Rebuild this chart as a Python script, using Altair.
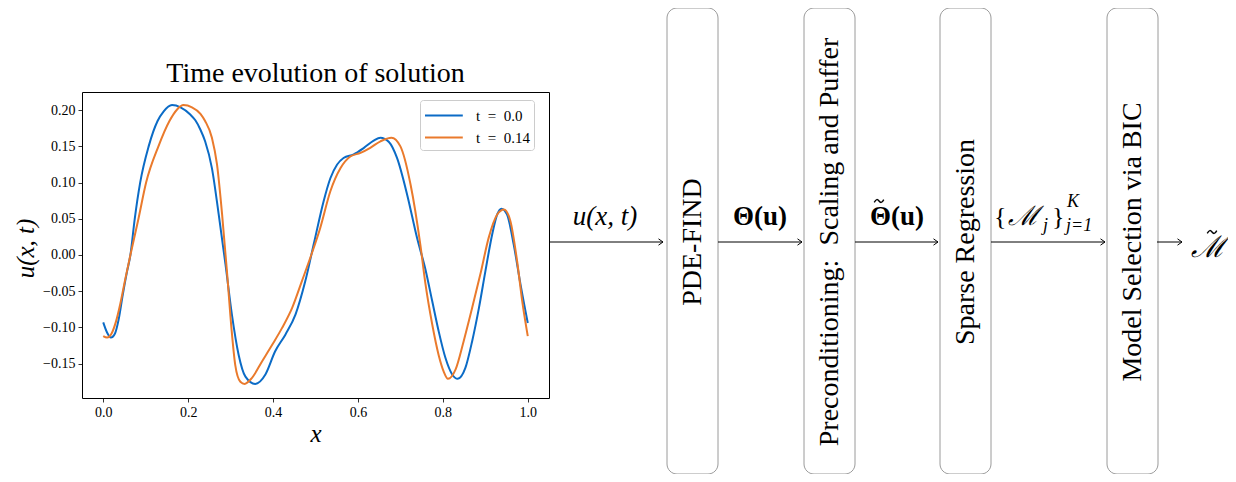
import altair as alt
import pandas as pd

# ---------------- data ----------------
SERIES = ["t\u2002=\u20020.0", "t\u2002=\u20020.14"]
COLORS = ["#0b6bc6", "#ea7a2c"]

X_T0 = [0.000, 0.009, 0.018, 0.028, 0.036, 0.046, 0.056, 0.064, 0.074, 0.087,
        0.107, 0.128, 0.142, 0.162, 0.182, 0.205, 0.217, 0.229, 0.240, 0.256,
        0.272, 0.288, 0.303, 0.319, 0.335, 0.358, 0.382, 0.405, 0.429, 0.453,
        0.476, 0.497, 0.519, 0.535, 0.551, 0.566, 0.590, 0.614, 0.637, 0.653,
        0.673, 0.692, 0.716, 0.739, 0.759, 0.775, 0.790, 0.806, 0.822, 0.835,
        0.853, 0.869, 0.885, 0.900, 0.916, 0.928, 0.938, 0.951, 0.967, 0.983,
        1.000]
U_T0 = [-0.093, -0.107, -0.114, -0.108, -0.090, -0.055, -0.023, 0.000, 0.049, 0.100,
        0.150, 0.185, 0.198, 0.207, 0.204, 0.194, 0.186, 0.173, 0.157, 0.120,
        0.056, -0.013, -0.082, -0.138, -0.168, -0.178, -0.165, -0.133, -0.110, -0.082,
        -0.036, 0.018, 0.074, 0.106, 0.125, 0.134, 0.139, 0.148, 0.158, 0.162,
        0.156, 0.134, 0.083, 0.024, -0.020, -0.064, -0.105, -0.142, -0.165, -0.171,
        -0.156, -0.119, -0.073, -0.023, 0.028, 0.056, 0.064, 0.056, 0.014, -0.041,
        -0.094]

X_T1 = [0.000, 0.009, 0.020, 0.030, 0.040, 0.052, 0.064, 0.083, 0.101, 0.130,
        0.156, 0.174, 0.189, 0.209, 0.229, 0.240, 0.256, 0.268, 0.280, 0.292,
        0.302, 0.311, 0.323, 0.333, 0.350, 0.374, 0.398, 0.421, 0.445, 0.468,
        0.490, 0.511, 0.535, 0.559, 0.582, 0.606, 0.629, 0.653, 0.679, 0.700,
        0.724, 0.747, 0.759, 0.775, 0.790, 0.802, 0.812, 0.830, 0.849, 0.869,
        0.889, 0.908, 0.928, 0.944, 0.959, 0.975, 0.987, 1.000]
U_T1 = [-0.112, -0.114, -0.108, -0.092, -0.068, -0.033, 0.000, 0.050, 0.100, 0.150,
        0.185, 0.201, 0.207, 0.204, 0.195, 0.185, 0.162, 0.125, 0.056, -0.027,
        -0.101, -0.152, -0.175, -0.178, -0.170, -0.147, -0.124, -0.101, -0.073, -0.036,
        0.000, 0.037, 0.088, 0.120, 0.136, 0.141, 0.148, 0.157, 0.162, 0.150,
        0.097, 0.014, -0.040, -0.096, -0.138, -0.161, -0.171, -0.158, -0.119, -0.073,
        -0.025, 0.024, 0.056, 0.063, 0.047, -0.009, -0.064, -0.112]

X_TICKS = [0.0, 0.2, 0.4, 0.6, 0.8, 1.0]
Y_TICKS = [-0.15, -0.10, -0.05, 0.00, 0.05, 0.10, 0.15, 0.20]
TITLE = "Time evolution of solution"
STAGES = ["PDE-FIND", "Preconditioning:\u00a0 Scaling and Puffer",
          "Sparse Regression", "Model Selection via BIC"]

# ---------------- layout (page pixel units) ----------------
FONT = "Liberation Serif"
PX0, PY0, PW, PH = 82, 92, 467, 306
X_DOMAIN = [-0.05, 1.05]
Y_DOMAIN = [-0.1975, 0.2251]
BOX_LEFT = [667, 804, 940, 1107]
BOX_W = 51
BOX_TOP, BOX_BOTTOM = 8, 474
FLOW_Y = 242
ARROW_FROM = [549, 718, 855, 991, 1157]
ARROW_TO = [663, 802, 938, 1105, 1182]
TILDE_SHAPE = "M-1,0.3C-0.6,-0.5 -0.3,-0.4 0,0C0.3,0.4 0.6,0.5 1,-0.3"
ARROW_SHAPE = "M-1,-0.7L0,0L-1,0.7"
LEGEND_SHAPE = "M-1,0H2.6"

# ---------------- tables ----------------
lines = pd.concat([
    pd.DataFrame({"x": X_T0, "u": U_T0, "series": SERIES[0]}),
    pd.DataFrame({"x": X_T1, "u": U_T1, "series": SERIES[1]}),
], ignore_index=True)

boxes = pd.DataFrame({
    "x0": BOX_LEFT,
    "x1": [b + BOX_W for b in BOX_LEFT],
    "y0": [BOX_TOP] * 4,
    "y1": [BOX_BOTTOM] * 4,
    "cx": [b + BOX_W / 2 for b in BOX_LEFT],
    "cy": [FLOW_Y] * 4,
    "label": STAGES,
})
arrows = pd.DataFrame({"x0": ARROW_FROM, "x1": ARROW_TO, "y": [FLOW_Y] * 5})
tildes = pd.DataFrame({"x": [879, 1212], "y": [201, 232]})

DX = alt.Scale(domain=[PX0, PX0 + PW], nice=False, zero=False)
DY = alt.Scale(domain=[PY0, PY0 + PH], nice=False, zero=False, reverse=True)


def dx(f):
    return alt.X(f, type="quantitative", scale=DX, axis=None)


def dy(f):
    return alt.Y(f, type="quantitative", scale=DY, axis=None)


def text_layer(rows, **kw):
    df = pd.DataFrame(rows, columns=["t", "x", "y"])
    return alt.Chart(df).mark_text(color="black", **kw).encode(
        x=dx("x"), y=dy("y"), text="t:N")


line_chart = alt.Chart(lines).mark_line(interpolate="monotone", strokeWidth=2).encode(
    x=alt.X("x:Q", scale=alt.Scale(domain=X_DOMAIN, nice=False, zero=False),
            axis=alt.Axis(values=X_TICKS, format=".1f", title="x",
                          labelFont=FONT, titleFont=FONT,
                          titleFontStyle="italic", titleFontSize=25, titlePadding=2)),
    y=alt.Y("u:Q", scale=alt.Scale(domain=Y_DOMAIN, nice=False, zero=False),
            axis=alt.Axis(values=Y_TICKS, format=".2f", title="u(x, t)",
                          labelFont=FONT, titleFont=FONT,
                          titleFontStyle="italic", titleFontSize=25,
                          titleX=-57, titleY=PH / 2 + 3, titleAngle=270,
                          titleAlign="center", titleBaseline="middle")),
    color=alt.Color("series:N", sort=SERIES,
                    scale=alt.Scale(domain=SERIES, range=COLORS),
                    legend=alt.Legend(title=None, orient="none", legendX=338, legendY=8,
                                      symbolType=LEGEND_SHAPE, symbolSize=441,
                                      symbolStrokeWidth=2, labelFont=FONT,
                                      labelFontSize=15, labelColor="black",
                                      fillColor="white", strokeColor="#cccccc",
                                      cornerRadius=3, padding=4, rowPadding=2,
                                      labelOffset=29)),
)

box_layer = alt.Chart(boxes).mark_rect(filled=False, stroke="#9a9a9a", strokeWidth=1,
                                       cornerRadius=10).encode(
    x=dx("x0"), x2="x1", y=dy("y0"), y2="y1")

box_text = alt.Chart(boxes).mark_text(font=FONT, fontSize=28, angle=270, color="black",
                                      align="center", baseline="middle").encode(
    x=dx("cx"), y=dy("cy"), text="label:N")

arrow_lines = alt.Chart(arrows).mark_rule(color="black", strokeWidth=1).encode(
    x=dx("x0"), x2="x1", y=dy("y"))

arrow_heads = alt.Chart(arrows).mark_point(
    shape=ARROW_SHAPE, filled=False, stroke="black", strokeWidth=1,
    size=81, opacity=1).encode(x=dx("x1"), y=dy("y"))

tilde_marks = alt.Chart(tildes).mark_point(
    shape=TILDE_SHAPE, filled=False, stroke="black", strokeWidth=1.4,
    size=90, opacity=1).encode(x=dx("x"), y=dy("y"))

title_text = text_layer([[TITLE, PX0 + PW / 2, 82]], font=FONT, fontSize=28,
                        align="center", baseline="alphabetic")
lbl_italic = text_layer([["u(x, t)", 605, 225]], font=FONT, fontSize=27,
                        fontStyle="italic", align="center", baseline="alphabetic")
lbl_bold = text_layer([["\u0398(u)", 760, 225], ["\u0398(u)", 897, 225]],
                      font=FONT, fontSize=27, fontWeight="bold", align="center",
                      baseline="alphabetic")
lbl_brace = text_layer([["{", 994, 225], ["}", 1052, 225]], font=FONT, fontSize=26,
                       align="left", baseline="alphabetic")
lbl_script = text_layer([["\u2133", 1008, 225]], font="DejaVu Serif", fontSize=27,
                        fontStyle="italic", align="left", baseline="alphabetic")
lbl_small = text_layer([["j", 1043, 231], ["K", 1067, 207], ["j=1", 1066, 231]],
                       font=FONT, fontSize=18, fontStyle="italic", align="left",
                       baseline="alphabetic")
lbl_out = text_layer([["\u2133", 1208, 257]], font="DejaVu Serif", fontSize=30,
                     fontStyle="italic", align="center", baseline="alphabetic")

chart = alt.layer(
    line_chart, box_layer, box_text, arrow_lines, arrow_heads, tilde_marks,
    title_text, lbl_italic, lbl_bold, lbl_brace, lbl_script, lbl_small, lbl_out,
).resolve_scale(x="independent", y="independent").properties(
    width=PW, height=PH,
    autosize=alt.AutoSizeParams(type="none"),
    padding={"left": PX0 - 8, "top": PY0 - 8,
             "right": 1228 - (PX0 + PW), "bottom": 474 - (PY0 + PH)},
).configure_view(stroke="black", strokeWidth=1).configure_axis(
    labelFont=FONT, labelFontSize=14, labelColor="black", titleFont=FONT,
    titleColor="black", titleFontWeight="normal", tickColor="black", tickSize=4,
    tickWidth=0.8, domain=False, grid=False, labelPadding=3,
)

chart.save("out.html", embed_options={"renderer": "svg", "actions": False})
